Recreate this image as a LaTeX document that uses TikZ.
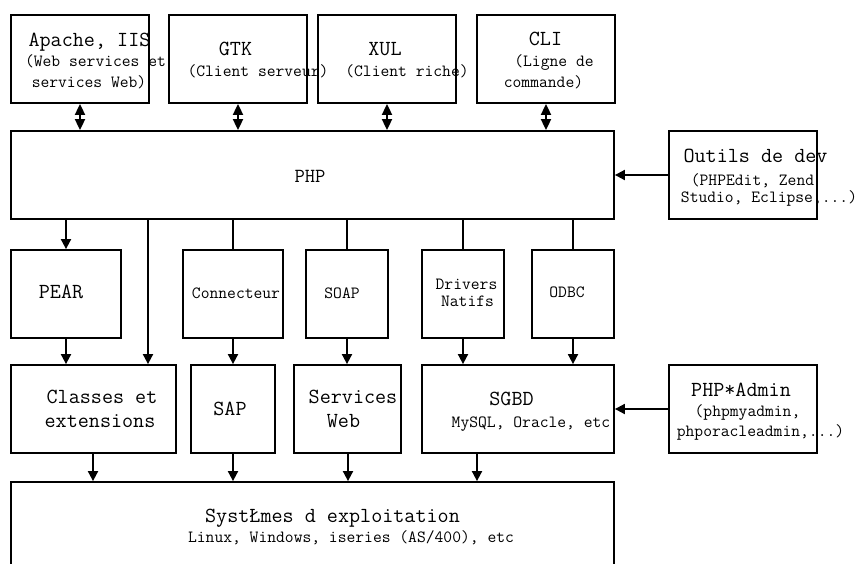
\documentclass[tikz,border=0pt]{standalone}
\usepackage{fontspec}
\usetikzlibrary{arrows.meta,calc}
\newcommand{\bigf}{\ttfamily\fontsize{21.5}{22}\selectfont}
\newcommand{\smallf}{\ttfamily\fontsize{17.1}{18}\selectfont}
\begin{document}
\begin{tikzpicture}[x=1pt,y=-1pt,
  box/.style={draw, line width=1.8pt, inner sep=0pt, minimum height=88pt},
  lbl/.style={anchor=base, inner sep=0pt, font=\bigf},
  sl/.style={anchor=base, inner sep=0pt, font=\smallf},
  conn/.style={line width=1.8pt},
  arr/.style={line width=1.8pt, -{Triangle[width=10pt,length=10pt]}},
  darr/.style={line width=1.8pt, {Triangle[width=10pt,length=11pt]}-{Triangle[width=10pt,length=11pt]}}]
\clip (0,0) rectangle (859,563);
\fill[white] (0,0) rectangle (859,563);
% boxes
\node[box, minimum width=138pt] (apache) at (80,59) {};
\node[box, minimum width=138pt] (gtk) at (238,59) {};
\node[box, minimum width=138pt] (xul) at (387,59) {};
\node[box, minimum width=138pt] (cli) at (546,59) {};
\node[box, minimum width=603pt] (php) at (312.5,175) {};
\node[box, minimum width=148pt] (outils) at (743,175) {};
\node[box, minimum width=110pt] (pear) at (66,294) {};
\node[box, minimum width=100pt] (connect) at (233,294) {};
\node[box, minimum width=82pt] (soap) at (347,294) {};
\node[box, minimum width=82pt] (drivers) at (463,294) {};
\node[box, minimum width=82pt] (odbc) at (573,294) {};
\node[box, minimum width=165pt] (classes) at (93.5,409) {};
\node[box, minimum width=84pt] (sap) at (233,409) {};
\node[box, minimum width=107pt] (sw) at (347.5,409) {};
\node[box, minimum width=192pt] (sgbd) at (518,409) {};
\node[box, minimum width=148pt] (admin) at (743,409) {};
\node[box, minimum width=603pt, minimum height=140pt] (os) at (312.5,552) {};
% texts
\node[lbl] (t1) at (89.5,46) {Apache, IIS};
\node[sl] (t2) at (95.5,66) {(Web services et};
\node[sl] (t3) at (89,87) {services Web)};
\node[lbl] (t4) at (235.5,55) {GTK};
\node[sl] (t5) at (258,76) {(Client serveur)};
\node[lbl] (t6) at (385,55) {XUL};
\node[sl] (t7) at (407,76) {(Client riche)};
\node[lbl] (t8) at (545.5,45) {CLI};
\node[sl] (t9) at (554,66) {(Ligne de};
\node[sl] (t10) at (543.5,87) {commande)};
\node[lbl, font=\ttfamily\fontsize{20}{20}\selectfont] (t11) at (310,182) {PHP};
\node[lbl] (t12) at (755.5,162) {Outils de dev};
\node[sl] (t13) at (752.5,185) {(PHPEdit, Zend};
\node[sl] (t14) at (769,202) {Studio, Eclipse,...)};
\node[lbl] (t15) at (61,298) {PEAR};
\node[sl] (t16) at (236,298) {Connecteur};
\node[sl] (t17) at (342,298) {SOAP};
\node[sl] (t18) at (466.5,289) {Drivers};
\node[sl] (t19) at (467.5,306) {Natifs};
\node[sl] (t20) at (567,297) {ODBC};
\node[lbl] (t21) at (102,403) {Classes et};
\node[lbl] (t22) at (100,427) {extensions};
\node[lbl] (t23) at (230,415) {SAP};
\node[lbl] (t24) at (353,403) {Services};
\node[lbl] (t25) at (343.5,427) {Web};
\node[lbl] (t26) at (511.5,405) {SGBD};
\node[sl] (t27) at (531,427) {MySQL, Oracle, etc};
\node[lbl] (t28) at (741,396) {PHP*Admin};
\node[sl] (t29) at (747.5,416) {(phpmyadmin,};
\node[sl] (t30) at (760.5,436) {phporacleadmin,...)};
\node[lbl] (t31) at (332.5,522) {SystŁmes d exploitation};
\node[sl] (t32) at (351,542) {Linux, Windows, iseries (AS/400), etc};
% helper coordinates
\coordinate (xa) at (148,0);
\coordinate (xb) at (477,0);
\coordinate (xc) at (93,0);
\coordinate (xd) at (348,0);
% connectors
\draw[darr] (apache.south) -- (apache.south |- php.north);
\draw[darr] (gtk.south) -- (gtk.south |- php.north);
\draw[darr] (xul.south) -- (xul.south |- php.north);
\draw[darr] (cli.south) -- (cli.south |- php.north);
\draw[arr] (outils.west) -- (php.east);
\draw[arr] (php.south -| pear.north) -- (pear.north);
\draw[arr] (php.south -| xa) -- (classes.north -| xa);
\draw[conn] (php.south -| connect.north) -- (connect.north);
\draw[conn] (php.south -| soap.north) -- (soap.north);
\draw[conn] (php.south -| drivers.north) -- (drivers.north);
\draw[conn] (php.south -| odbc.north) -- (odbc.north);
\draw[arr] (pear.south) -- (pear.south |- classes.north);
\draw[arr] (connect.south) -- (sap.north);
\draw[arr] (soap.south) -- (soap.south |- sw.north);
\draw[arr] (drivers.south) -- (drivers.south |- sgbd.north);
\draw[arr] (odbc.south) -- (odbc.south |- sgbd.north);
\draw[arr] (admin.west) -- (sgbd.east);
\draw[arr] (classes.south -| xc) -- (os.north -| xc);
\draw[arr] (sap.south) -- (sap.south |- os.north);
\draw[arr] (sw.south -| xd) -- (os.north -| xd);
\draw[arr] (sgbd.south -| xb) -- (os.north -| xb);
\end{tikzpicture}
\end{document}
